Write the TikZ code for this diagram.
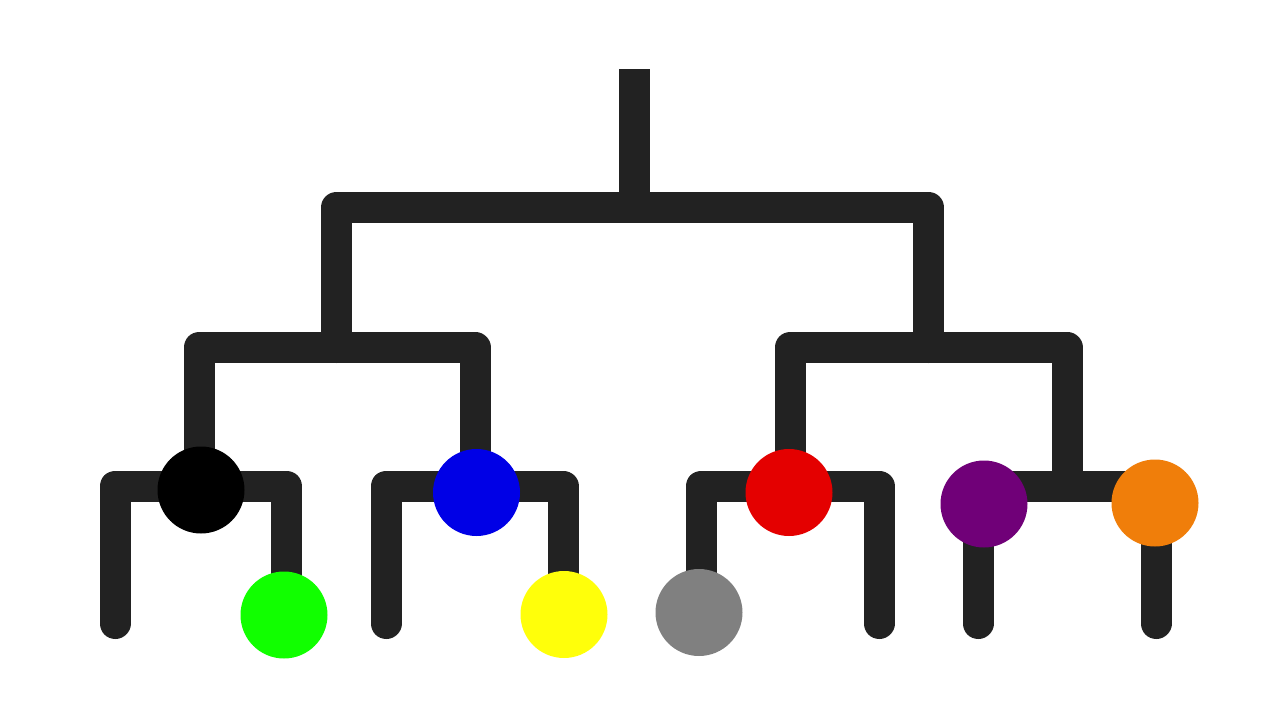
\documentclass[tikz,border=0pt]{standalone}
\usetikzlibrary{calc}
\definecolor{branchgray}{RGB}{34,34,34}
\definecolor{dotgreen}{RGB}{17,255,0}
\definecolor{dotblue}{RGB}{0,0,230}
\definecolor{dotyellow}{RGB}{255,255,10}
\definecolor{dotgray}{RGB}{128,128,128}
\definecolor{dotred}{RGB}{228,0,0}
\definecolor{dotpurple}{RGB}{112,0,120}
\definecolor{dotorange}{RGB}{240,126,10}
\tikzset{
  branch/.style={draw=branchgray, line width=3.1cm, line join=round, line cap=round},
  stem/.style={draw=branchgray, line width=3.1cm, line cap=butt},
  dot/.style={circle, draw=none, inner sep=0pt, minimum size=8.7cm}
}
\begin{document}
\begin{tikzpicture}[x=0.1cm, y=-0.1cm]
\useasboundingbox[fill=white] (0,0) rectangle (1280,720);
% junction coordinates
\coordinate (rootTop) at (634.5,69);
\coordinate (jRoot) at (634.5,207.5);
\coordinate (jL) at (336.5,347.5);
\coordinate (jR) at (928.5,347.5);
\coordinate (jA) at (199,486);
\coordinate (jB) at (475,486);
\coordinate (jC) at (790,486);
\coordinate (jD) at (1067,486);
% leaf ends
\coordinate (leafA1) at (115,623.5);
\coordinate (leafA2) at (286.5,600);
\coordinate (leafB1) at (386,623.5);
\coordinate (leafB2) at (563,600);
\coordinate (leafC1) at (701,600);
\coordinate (leafC2) at (879,623.5);
\coordinate (leafD1) at (978,623.5);
\coordinate (leafD2) at (1156,623.5);
% branches
\draw[stem] (rootTop) -- (jRoot);
\draw[branch] (jL) |- (jRoot) -| (jR);
\draw[branch] (jA) |- (jL) -| (jB);
\draw[branch] (jC) |- (jR) -| (jD);
\draw[branch] (leafA1) |- (jA) -| (leafA2);
\draw[branch] (leafB1) |- (jB) -| (leafB2);
\draw[branch] (leafC1) |- (jC) -| (leafC2);
\draw[branch] (leafD1) |- (jD) -| (leafD2);
% coloured dots
\node[dot, fill=black] (black) at (201,490) {};
\node[dot, fill=dotgreen] (green) at (284,615) {};
\node[dot, fill=dotblue] (blue) at (476.5,492.5) {};
\node[dot, fill=dotyellow] (yellow) at (564,614.5) {};
\node[dot, fill=dotgray] (gray) at (699,612.5) {};
\node[dot, fill=dotred] (red) at (789,492.5) {};
\node[dot, fill=dotpurple] (purple) at (984,504) {};
\node[dot, fill=dotorange] (orange) at (1155,503) {};
\end{tikzpicture}
\end{document}
